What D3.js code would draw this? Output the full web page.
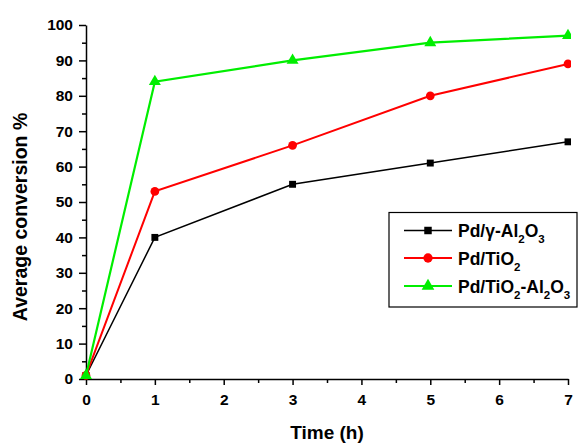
<!DOCTYPE html>
<html><head><meta charset="utf-8">
<script src="https://cdn.jsdelivr.net/npm/d3@7"></script>
<style>body{margin:0;background:#fff}svg{display:block}text{font-family:Arial,"Liberation Sans",sans-serif;font-weight:bold}</style>
</head><body>
<svg id="c" width="580" height="443"></svg>
<script>
const times = [0, 1, 3, 5, 7];
const seriesNames = ["Pd/γ-Al2O3", "Pd/TiO2", "Pd/TiO2-Al2O3"];
const alValues = [1, 40, 55, 61, 67];
const tiValues = [1, 53, 66, 80, 89];
const tiAlValues = [1, 84, 90, 95, 97];
const xTicks = [0, 1, 2, 3, 4, 5, 6, 7];
const yTicks = [0, 10, 20, 30, 40, 50, 60, 70, 80, 90, 100];

const svg = d3.select("#c");
const x = d3.scaleLinear().domain([0, 7]).range([86, 568]);
const y = d3.scaleLinear().domain([0, 100]).range([379, 25]);

const series = [
  {name: seriesNames[0], values: alValues, color: "#000000", shape: d3.symbolSquare, size: 48, lw: 1.5},
  {name: seriesNames[1], values: tiValues, color: "#ff0000", shape: d3.symbolCircle, size: 60, lw: 2},
  {name: seriesNames[2], values: tiAlValues, color: "#00ee00", shape: d3.symbolTriangle, size: 62, lw: 2.2}
];

svg.append("defs").append("clipPath").attr("id", "clip")
  .append("rect").attr("x", 0).attr("y", 0).attr("width", 571).attr("height", 443);

// axes
const xAxis = d3.axisBottom(x).tickValues(xTicks).tickFormat(d3.format("d")).tickSize(6).tickSizeOuter(0);
const gx = svg.append("g").attr("transform", `translate(0,${y(0)})`).call(xAxis);
gx.selectAll("text").attr("font-size", 15.5).attr("fill", "#000").attr("y", 26).attr("dy", 0);
const xMinor = d3.axisBottom(x).tickValues(d3.range(0.5, 7, 1)).tickFormat("").tickSize(4).tickSizeOuter(0);
svg.append("g").attr("transform", `translate(0,${y(0)})`).call(xMinor).select(".domain").remove();

const yAxis = d3.axisLeft(y).tickValues(yTicks).tickFormat(d3.format("d")).tickSize(7).tickSizeOuter(0);
const gy = svg.append("g").attr("transform", `translate(${x(0)},0)`).call(yAxis);
gy.selectAll("text").attr("font-size", 15.5).attr("fill", "#000").attr("x", -13);
const yMinor = d3.axisLeft(y).tickValues(d3.range(5, 100, 10)).tickFormat("").tickSize(4).tickSizeOuter(0);
svg.append("g").attr("transform", `translate(${x(0)},0)`).call(yMinor).select(".domain").remove();
svg.selectAll(".domain, .tick line").attr("stroke", "#000").attr("stroke-width", 1.5);

// lines
const plot = svg.append("g").attr("clip-path", "url(#clip)");
const line = d3.line().x((d, i) => x(times[i])).y(d => y(d));
series.forEach(s => {
  plot.append("path").attr("d", line(s.values)).attr("fill", "none")
    .attr("stroke", s.color).attr("stroke-width", s.lw);
  plot.selectAll(null).data(s.values).enter().append("path")
    .attr("d", d3.symbol().type(s.shape).size(s.size))
    .attr("transform", (d, i) => `translate(${x(times[i])},${y(d)})`)
    .attr("fill", s.color);
});

// axis titles
svg.append("text").attr("x", 327).attr("y", 439).attr("text-anchor", "middle")
  .attr("font-size", 19).text("Time (h)");
svg.append("text").attr("transform", "translate(27,217) rotate(-90)").attr("text-anchor", "middle")
  .attr("font-size", 19.5).text("Average conversion %");

// legend
const lg = svg.append("g");
lg.append("rect").attr("x", 389).attr("y", 212.5).attr("width", 188).attr("height", 94.5)
  .attr("fill", "#fff").attr("stroke", "#000").attr("stroke-width", 1.2);
const rows = [230.5, 258, 286];
function label(t, parts) {
  parts.forEach(p => {
    const ts = t.append("tspan").text(p[0]);
    if (p[1]) ts.attr("font-size", 11.5).attr("dy", 6);
    else if (p[2]) ts.attr("dy", -6);
  });
}
const labelParts = [
  [["Pd/γ-Al"], ["2", 1], ["O", 0, 1], ["3", 1]],
  [["Pd/TiO"], ["2", 1]],
  [["Pd/TiO"], ["2", 1], ["-Al", 0, 1], ["2", 1], ["O", 0, 1], ["3", 1]]
];
series.forEach((s, i) => {
  const yy = rows[i];
  lg.append("line").attr("x1", 404).attr("x2", 452).attr("y1", yy).attr("y2", yy)
    .attr("stroke", s.color).attr("stroke-width", s.lw);
  lg.append("path").attr("d", d3.symbol().type(s.shape).size(s.size + 8))
    .attr("transform", `translate(428,${yy})`).attr("fill", s.color);
  const t = lg.append("text").attr("x", 458).attr("y", yy + 6.5).attr("font-size", 17.5);
  label(t, labelParts[i]);
});
</script>
</body></html>
